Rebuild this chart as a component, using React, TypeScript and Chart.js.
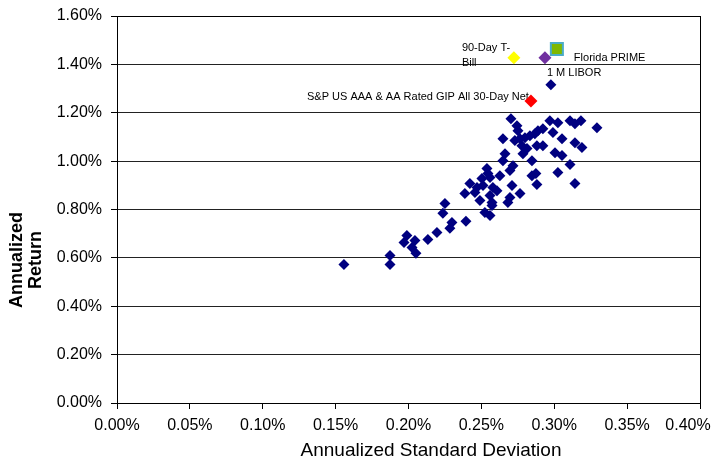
import React, { useEffect, useRef } from "react";
import { Chart, registerables } from "chart.js";

Chart.register(...registerables);

// Annualized standard deviation (%) and annualized return (%) of peer funds
const peerStdDev: number[] = [
  0.2703, 0.2744, 0.2751, 0.2648, 0.273, 0.2765, 0.2799, 0.2833, 0.2867, 0.2888,
  0.2922, 0.297, 0.3025, 0.2991, 0.3108, 0.3142, 0.3183, 0.3293, 0.3053, 0.3142,
  0.319, 0.2778, 0.2813, 0.2785, 0.2881, 0.2922, 0.3005, 0.3053, 0.2662, 0.2648,
  0.2847, 0.3108, 0.2717, 0.2696, 0.2538, 0.2545, 0.2627, 0.2847, 0.2874, 0.3025,
  0.2881, 0.3142, 0.271, 0.2504, 0.2421, 0.247, 0.2511, 0.2607, 0.2387, 0.2456,
  0.2765, 0.2696, 0.2559, 0.249, 0.2573, 0.2682, 0.2559, 0.2579, 0.2573, 0.2524,
  0.2559, 0.225, 0.2236, 0.2298, 0.2284, 0.2394, 0.2195, 0.2133, 0.1989, 0.1969,
  0.2044, 0.2024, 0.2051, 0.1873, 0.1873, 0.1557, 0.2977,
];
const peerReturn: number[] = [
  1.175, 1.146, 1.126, 1.093, 1.085, 1.093, 1.097, 1.105, 1.113, 1.126,
  1.134, 1.167, 1.159, 1.118, 1.167, 1.155, 1.167, 1.138, 1.093, 1.076,
  1.056, 1.064, 1.052, 1.031, 1.064, 1.064, 1.035, 1.023, 1.031, 1.002,
  1.002, 0.986, 0.981, 0.961, 0.969, 0.949, 0.94, 0.94, 0.949, 0.953,
  0.903, 0.907, 0.899, 0.928, 0.907, 0.891, 0.899, 0.878, 0.866, 0.87,
  0.866, 0.85, 0.858, 0.837, 0.829, 0.829, 0.932, 0.891, 0.817, 0.788,
  0.775, 0.825, 0.784, 0.746, 0.722, 0.751, 0.705, 0.676, 0.693, 0.664,
  0.672, 0.643, 0.619, 0.61, 0.573, 0.573, 1.316,
];

// Benchmarks
const benchNames: string[] = [
  "S&P US AAA & AA Rated GIP All 30-Day Net",
  "90-Day T-Bill",
  "1 M LIBOR",
  "Florida PRIME",
];
const benchStdDev: number[] = [0.284, 0.2723, 0.2936, 0.3018];
const benchReturn: number[] = [1.249, 1.427, 1.427, 1.464];

const xTicks: number[] = [0, 0.05, 0.1, 0.15, 0.2, 0.25, 0.3, 0.35, 0.4];
const yTicks: number[] = [0, 0.2, 0.4, 0.6, 0.8, 1.0, 1.2, 1.4, 1.6];

const xTitle = "Annualized Standard Deviation";
const yTitle: string[] = ["Annualized", "Return"];

const FONT = "'Liberation Sans', Arial, sans-serif";

export default function App() {
  const canvasRef = useRef<HTMLCanvasElement | null>(null);

  useEffect(() => {
    document.body.style.margin = "0";
    document.body.style.overflow = "hidden";
    const canvas = canvasRef.current;
    if (!canvas) return;

    const bench = benchNames.map((_, i) => ({ x: benchStdDev[i], y: benchReturn[i] }));

    const framePlugin = {
      id: "frame",
      beforeDatasetsDraw(chart: any) {
        const { ctx, scales } = chart;
        const xs = scales.x;
        const ys = scales.y;
        ctx.save();
        ctx.fillStyle = "#000";
        ctx.font = `11px ${FONT}`;
        ctx.textBaseline = "middle";
        // S&P label (right aligned, ends at the red marker)
        const p0x = xs.getPixelForValue(benchStdDev[0]);
        const p0y = ys.getPixelForValue(benchReturn[0]);
        ctx.textAlign = "right";
        ctx.fillText(benchNames[0], p0x - 2, p0y - 4);
        ctx.textAlign = "left";
        // 90-Day T-Bill (two lines)
        const p1x = xs.getPixelForValue(benchStdDev[1]);
        const p1y = ys.getPixelForValue(benchReturn[1]);
        ctx.fillText("90-Day T-", p1x - 52, p1y - 10);
        ctx.fillText("Bill", p1x - 52, p1y + 5);
        // 1 M LIBOR
        const p2x = xs.getPixelForValue(benchStdDev[2]);
        const p2y = ys.getPixelForValue(benchReturn[2]);
        ctx.fillText(benchNames[2], p2x + 2, p2y + 15);
        // Florida PRIME
        const p3x = xs.getPixelForValue(benchStdDev[3]);
        const p3y = ys.getPixelForValue(benchReturn[3]);
        ctx.fillText(benchNames[3], p3x + 17, p3y + 9);
        ctx.restore();
      },
      afterDraw(chart: any) {
        const { ctx, chartArea } = chart;
        ctx.save();
        ctx.strokeStyle = "#000";
        ctx.lineWidth = 1;
        ctx.strokeRect(
          Math.round(chartArea.left) + 0.5,
          Math.round(chartArea.top) + 0.5,
          Math.round(chartArea.right - chartArea.left),
          Math.round(chartArea.bottom - chartArea.top)
        );
        // axis titles
        ctx.fillStyle = "#000";
        ctx.textAlign = "center";
        ctx.textBaseline = "middle";
        ctx.font = `19px ${FONT}`;
        ctx.fillText(xTitle, 431, 451);
        ctx.translate(26, 260);
        ctx.rotate(-Math.PI / 2);
        ctx.font = `bold 18px ${FONT}`;
        ctx.fillText(yTitle[0], 0, -9);
        ctx.fillText(yTitle[1], 0, 10);
        ctx.restore();
      },
    };

    const lastX = xTicks[xTicks.length - 1];

    const chart = new Chart(canvas, {
      type: "scatter",
      data: {
        datasets: [
          {
            label: "Peers",
            data: peerStdDev.map((x, i) => ({ x, y: peerReturn[i] })),
            pointStyle: "rectRot",
            pointRadius: 5.5,
            backgroundColor: "#000080",
            borderColor: "#000080",
            borderWidth: 0,
          },
          {
            label: benchNames[0],
            data: [bench[0]],
            pointStyle: "rectRot",
            pointRadius: 6.5,
            backgroundColor: "#FF0000",
            borderColor: "#FF0000",
            borderWidth: 0,
          },
          {
            label: benchNames[1],
            data: [bench[1]],
            pointStyle: "rectRot",
            pointRadius: 6.5,
            backgroundColor: "#FFFF00",
            borderColor: "#FFFF00",
            borderWidth: 0,
          },
          {
            label: benchNames[2],
            data: [bench[2]],
            pointStyle: "rectRot",
            pointRadius: 6.5,
            backgroundColor: "#7030A0",
            borderColor: "#7030A0",
            borderWidth: 0,
          },
          {
            label: benchNames[3],
            data: [bench[3]],
            pointStyle: "rect",
            pointRadius: 8.5,
            backgroundColor: "#7FB800",
            borderColor: "#4BACC6",
            borderWidth: 2,
          },
        ],
      },
      options: {
        animation: false,
        responsive: true,
        maintainAspectRatio: false,
        layout: { padding: { top: 16, right: 17, left: 0, bottom: 0 } },
        plugins: {
          legend: { display: false },
          tooltip: { enabled: false },
        },
        scales: {
          x: {
            type: "linear",
            min: 0,
            max: 0.4,
            afterBuildTicks: (scale: any) => {
              scale.ticks = xTicks.map((v) => ({ value: v }));
            },
            afterFit: (scale: any) => {
              scale.height = 60;
              scale.paddingLeft = 0;
              scale.paddingRight = 0;
            },
            ticks: {
              color: "#000",
              font: { family: FONT, size: 16 },
              padding: 7,
              maxRotation: 0,
              autoSkip: false,
              callback: (v: any) =>
                Number(v).toFixed(2) + "%" + (Math.abs(Number(v) - lastX) < 1e-9 ? "\u2002\u2002\u2002" : ""),
            },
            grid: {
              display: true,
              drawOnChartArea: false,
              drawTicks: true,
              tickLength: 6,
              tickColor: "#000",
              color: "#000",
            },
            border: { display: true, color: "#000" },
            title: { display: false },
          },
          y: {
            type: "linear",
            min: 0,
            max: 1.6,
            afterBuildTicks: (scale: any) => {
              scale.ticks = yTicks.map((v) => ({ value: v }));
            },
            afterFit: (scale: any) => {
              scale.width = 117;
              scale.paddingTop = 0;
              scale.paddingBottom = 0;
            },
            ticks: {
              color: "#000",
              font: { family: FONT, size: 16 },
              padding: 9,
              autoSkip: false,
              callback: (v: any) => Number(v).toFixed(2) + "%",
            },
            grid: {
              display: true,
              drawTicks: true,
              tickLength: 6,
              tickColor: "#000",
              color: "#222",
              lineWidth: 1,
            },
            border: { display: true, color: "#000" },
            title: { display: false },
          },
        },
      },
      plugins: [framePlugin],
    });

    return () => chart.destroy();
  }, []);

  return (
    <div style={{ position: "absolute", left: 0, top: 0, width: 717, height: 463 }}>
      <canvas ref={canvasRef} />
    </div>
  );
}
